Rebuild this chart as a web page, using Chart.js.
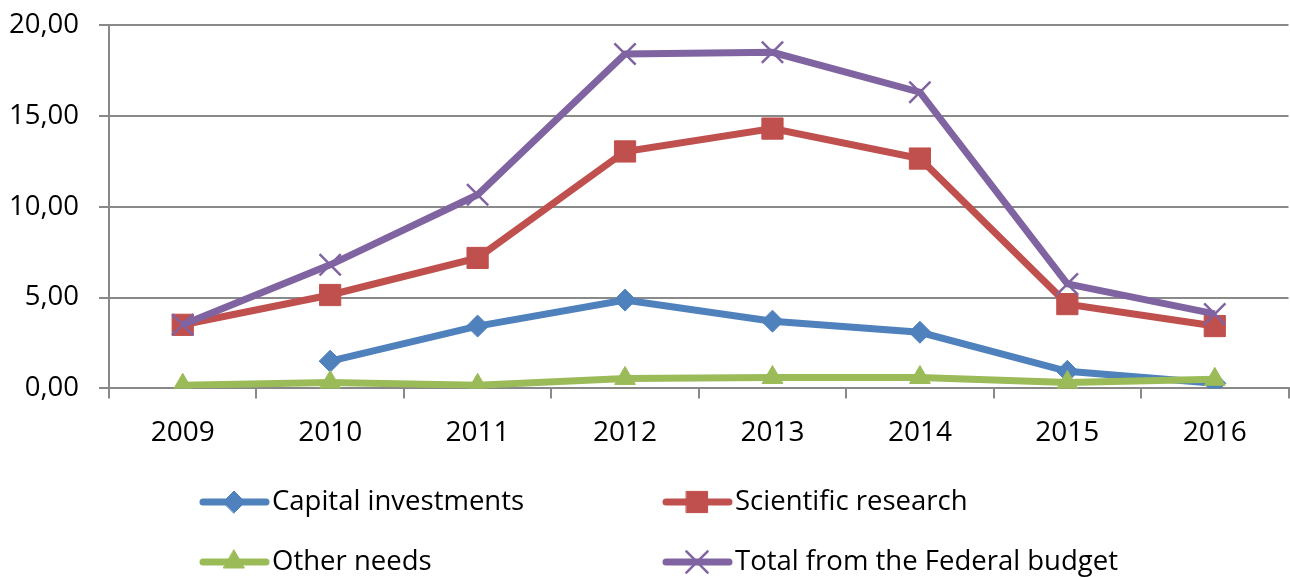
<!DOCTYPE html>
<html><head><meta charset="utf-8">
<script src="https://cdn.jsdelivr.net/npm/chart.js@4/dist/chart.umd.min.js"></script>
<style>html,body{margin:0;padding:0;background:#fff;overflow:hidden;width:1290px;height:577px}#wrap{width:1306px;height:577px;overflow:hidden}canvas{display:block}</style>
</head><body><div id="wrap"><canvas id="c"></canvas></div>
<script>
const years = ['2009','2010','2011','2012','2013','2014','2015','2016'];
const capitalInvestments = [null, 1.50, 3.43, 4.86, 3.70, 3.09, 0.94, 0.28];
const scientificResearch = [3.50, 5.14, 7.18, 13.04, 14.30, 12.65, 4.64, 3.43];
const otherNeeds = [0.17, 0.33, 0.17, 0.55, 0.60, 0.60, 0.33, 0.50];
const totalFederal = [3.50, 6.80, 10.66, 18.40, 18.50, 16.30, 5.75, 4.10];
const seriesNames = ['Capital investments','Scientific research','Other needs','Total from the Federal budget'];

const FONT = "'Open Sans', sans-serif";
function ds(label, data, color, style, radius, bw, order) {
  return {label, data, order, borderColor: color, backgroundColor: color, borderWidth: 7,
    pointStyle: style, pointRadius: radius, pointHoverRadius: radius,
    pointBorderWidth: bw, pointBorderColor: color, pointBackgroundColor: color, tension: 0, spanGaps: false};
}
const legendPlugin = {
  id: 'gridLegend',
  afterDraw(chart) {
    const ctx = chart.ctx;
    const pos = [[200, 502], [663, 502], [200, 562], [663, 562]];
    chart.data.datasets.forEach((d, i) => {
      const [x, y] = pos[i];
      ctx.save();
      ctx.strokeStyle = d.borderColor; ctx.lineWidth = 7; ctx.lineCap = 'round';
      ctx.beginPath(); ctx.moveTo(x + 3, y); ctx.lineTo(x + 66, y); ctx.stroke();
      ctx.fillStyle = d.backgroundColor; ctx.strokeStyle = d.borderColor; ctx.lineWidth = d.pointBorderWidth;
      Chart.helpers.drawPoint(ctx, {pointStyle: d.pointStyle, radius: d.pointRadius, borderWidth: d.pointBorderWidth, rotation: 0}, x + 34, y);
      ctx.fillStyle = '#000'; ctx.font = '27.5px ' + FONT; ctx.textBaseline = 'middle';
      ctx.fillText(d.label, x + 72, y);
      ctx.restore();
    });
  }
};
new Chart(document.getElementById('c'), {
  type: 'line',
  data: { labels: years, datasets: [
    ds(seriesNames[0], capitalInvestments, '#4F81BD', 'rectRot', 11, 1, 4),
    ds(seriesNames[1], scientificResearch, '#C0504D', 'rect', 15, 1, 3),
    ds(seriesNames[2], otherNeeds, '#9BBB59', 'triangle', 12, 1, 2),
    ds(seriesNames[3], totalFederal, '#8064A2', 'crossRot', 15, 2.5, 1)
  ]},
  options: {
    responsive: true, maintainAspectRatio: false, animation: false,
    layout: { padding: { top: 25, right: 0, bottom: 109, left: -11 } },
    plugins: { legend: { display: false }, tooltip: { enabled: false } },
    scales: {
      x: { offset: true,
        grid: { offset: true, drawOnChartArea: false, drawTicks: true, tickLength: 10, color: '#898989', lineWidth: 2 },
        border: { color: '#898989', width: 2 },
        ticks: { color: '#000', font: { family: FONT, size: 28 }, padding: 18 } },
      y: { min: 0, max: 20,
        afterFit: s => { s.paddingTop = 0; s.paddingBottom = 0; },
        grid: { color: '#898989', lineWidth: 2, tickLength: 10 },
        border: { color: '#898989', width: 2 },
        ticks: { stepSize: 5, color: '#000', font: { family: FONT, size: 27.5 }, padding: 20,
          callback: v => v.toFixed(2).replace('.', ',') } }
    }
  },
  plugins: [legendPlugin]
});
</script></body></html>
